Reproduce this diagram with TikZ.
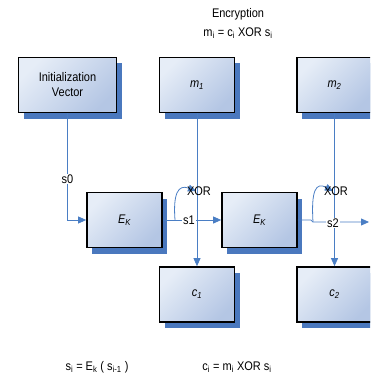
\documentclass[tikz,border=0pt]{standalone}
\usepackage{fontspec}
\setmainfont{Liberation Sans}[FakeStretch=0.88]
\usetikzlibrary{arrows.meta,shadows}
\definecolor{linec}{HTML}{4A7EC4}
\definecolor{shad}{HTML}{4A78BE}
\definecolor{boxl}{HTML}{E6EDF7}
\definecolor{boxd}{HTML}{B4C6E4}
\begin{document}
\begin{tikzpicture}[x=1pt,y=-1pt, font=\fontsize{12.5}{14}\selectfont,
 blk/.style={draw=black, line width=1.7pt, top color=boxl, bottom color=boxd, shading angle=45,
   minimum width=75pt, minimum height=55pt, inner sep=0pt, align=center,
   drop shadow={shadow xshift=5pt, shadow yshift=-6pt, fill=shad, opacity=1}},
 conn/.style={draw=linec, line width=0.8pt},
 arr/.style={conn, -{Triangle[length=8pt,width=7pt]}},
 lbl/.style={fill=white, inner sep=1pt},
 txt/.style={inner sep=0pt}]
\useasboundingbox (0,0) rectangle (370,377);
\clip (0,0) rectangle (370,377);
% boxes
\node[blk, minimum width=98pt] (iv) at (67.5,85) {Initialization\\[1pt]Vector};
\node[blk] (m1) at (197,85) {\textit{m\textsubscript{1}}};
\node[blk] (m2) at (334.5,85) {\textit{m\textsubscript{2}}};
\node[blk] (e1) at (124.5,220) {\textit{E\textsubscript{K}}};
\node[blk] (e2) at (259.5,220) {\textit{E\textsubscript{K}}};
\node[blk] (c1) at (197,294.5) {\textit{c\textsubscript{1}}};
\node[blk] (c2) at (334.5,294.5) {\textit{c\textsubscript{2}}};
% coordinates
\coordinate (x1) at (196,191);
\coordinate (x2) at (333,191);
\coordinate (b1) at (175,220);
\coordinate (b2) at (313,222);
\coordinate (out) at (369,222);
% connectors
\draw[arr] (iv.south) -- (iv.south |- e1.west) -- (e1.west);
\node[lbl] (s0) at (67.5,179) {s0};
\draw[arr] (m1.south) -- (c1.north);
\draw[arr] (m2.south) -- (c2.north);
\draw[arr] (e1.east) -- (e2.west);
\draw[arr] (b1) .. controls (173,194) and (178,184) .. (x1);
\node[lbl] (s1) at (189,220) {s1};
\draw[arr] (e2.east) -- ++(13,0) -- ++(2,2) -- (out);
\draw[arr] (b2) .. controls (311,190) and (316,182) .. (x2);
\node[lbl] (s2) at (333,223) {s2};
\node[txt] (xor1) at (199,191) {XOR};
\node[txt] (xor2) at (336,191) {XOR};
% texts
\node[txt] (enc) at (238,14) {Encryption};
\node[txt] (eq1) at (238,33) {m\textsubscript{i} = c\textsubscript{i} XOR s\textsubscript{i}};
\node[txt] (eq2) at (97,367) {s\textsubscript{i} = E\textsubscript{k} ( s\textsubscript{i-1} )};
\node[txt] (eq3) at (237,367) {c\textsubscript{i} = m\textsubscript{i} XOR s\textsubscript{i}};
\end{tikzpicture}
\end{document}
